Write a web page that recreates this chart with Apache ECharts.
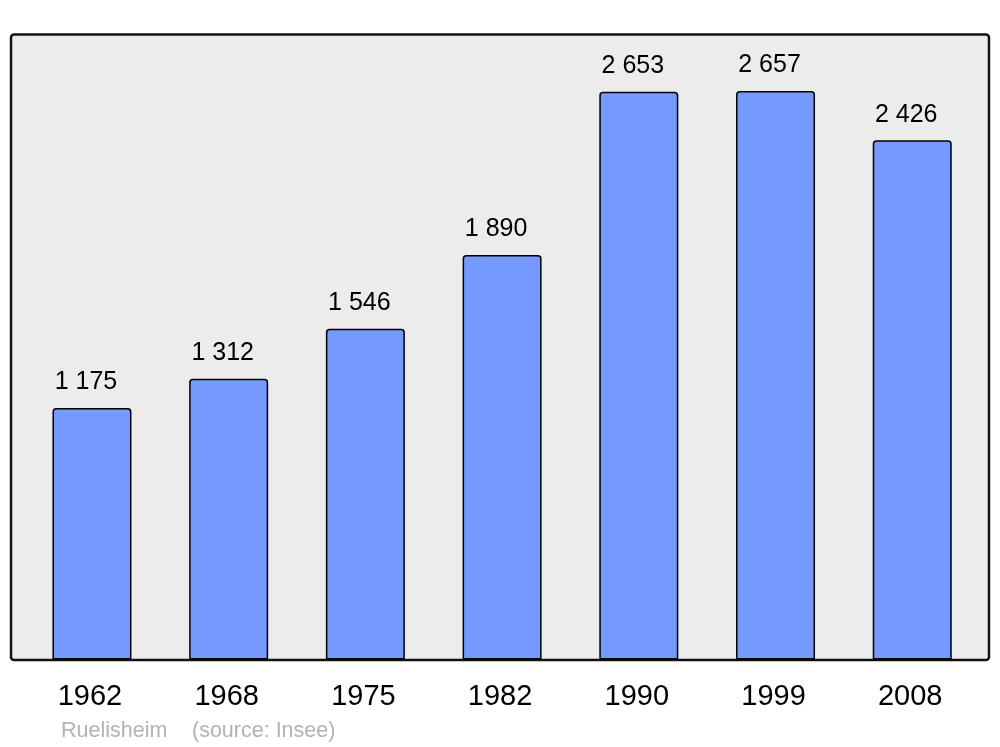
<!DOCTYPE html>
<html><head><meta charset="utf-8">
<script src="https://cdn.jsdelivr.net/npm/echarts@6/dist/echarts.min.js"></script>
<style>html,body{margin:0;padding:0;background:#fff}#c{width:1000px;height:747px}</style>
</head><body><div id="c"></div>
<script>
const years = ['1962','1968','1975','1982','1990','1999','2008'];
const population = [1175, 1312, 1546, 1890, 2653, 2657, 2426];
const commune = 'Ruelisheim';
const source = '(source: Insee)';

function fmt(v){ return String(v).replace(/\B(?=(\d{3})+(?!\d))/g, ' '); }

const chart = echarts.init(document.getElementById('c'), null, {renderer:'canvas'});
chart.setOption({
  animation:false,
  backgroundColor:'#ffffff',
  textStyle:{fontFamily:'Liberation Sans, Arial, sans-serif'},
  graphic:[
    {type:'rect', z:-10, shape:{x:11, y:34.5, width:978, height:625.5, r:3},
     style:{fill:'#ececec', stroke:'#111111', lineWidth:2.5}},
    {type:'text', left:61, top:720, style:{text:commune, fill:'#b3b3b3', font:'21.5px "Liberation Sans", Arial, sans-serif'}},
    {type:'text', left:192, top:720, style:{text:source, fill:'#b3b3b3', font:'21.5px "Liberation Sans", Arial, sans-serif'}}
  ],
  grid:{left:23.6, top:34, width:957, height:625.5, containLabel:false},
  xAxis:{type:'category', data:years,
    axisLine:{show:false}, axisTick:{show:false},
    axisLabel:{color:'#000', fontSize:29, margin:23, padding:[0,4,0,0], fontFamily:'Liberation Sans, Arial, sans-serif'}},
  yAxis:{type:'value', min:0, max:2923, show:false, splitLine:{show:false}},
  series:[{
    type:'bar', data:population, barWidth:79,
    itemStyle:{color:'#7499ff', borderColor:'#000', borderWidth:1.5, borderRadius:[3,3,0,0]},
    label:{show:true, position:'top', distance:13, offset:[-6,0], color:'#000', fontSize:25,
      fontFamily:'Liberation Sans, Arial, sans-serif', formatter:p=>fmt(p.value)}
  }]
});
</script></body></html>
